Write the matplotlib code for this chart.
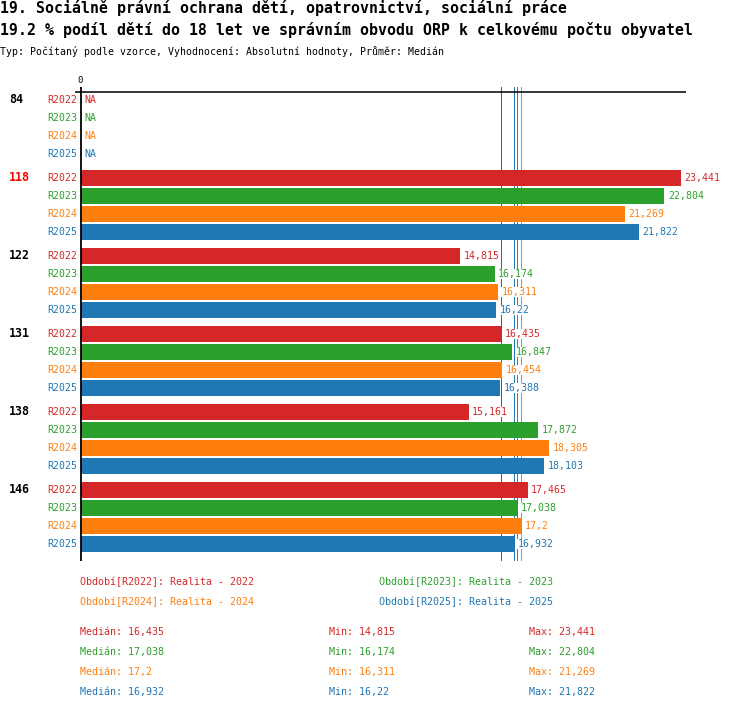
import numpy as np
import matplotlib
matplotlib.use("Agg")
import matplotlib.pyplot as plt

plt.rcParams['font.family'] = ['DejaVu Sans Mono', 'DejaVu Sans']

title1 = "19. Sociálně právní ochrana dětí, opatrovnictví, sociální práce"
title2 = "19.2 % podíl dětí do 18 let ve správním obvodu ORP k celkovému počtu obyvatel"
subtitle = "Typ: Počítaný podle vzorce, Vyhodnocení: Absolutní hodnoty, Průměr: Medián"

groups = ['84', '118', '122', '131', '138', '146']
highlight = '118'
series = ['R2022', 'R2023', 'R2024', 'R2025']
legend_years = ['2022', '2023', '2024', '2025']
R2022 = [np.nan, 23.441, 14.815, 16.435, 15.161, 17.465]
R2023 = [np.nan, 22.804, 16.174, 16.847, 17.872, 17.038]
R2024 = [np.nan, 21.269, 16.311, 16.454, 18.305, 17.2]
R2025 = [np.nan, 21.822, 16.22, 16.388, 18.103, 16.932]
values = [R2022, R2023, R2024, R2025]
colors = ['#d62728', '#2ca02c', '#ff7f0e', '#1f77b4']

W, H = 750, 710
DPI = 100
fig = plt.figure(figsize=(W / DPI, H / DPI), dpi=DPI)

# layout in pixels
x0_px = 80.5          # pixel of value 0
ppu = 25.6            # pixels per unit
ax_left_px, ax_right_px = 75.0, 685.7
row_px = 18.0
group_px = 78.0
row0_px = 100.0
ax_top_px, ax_bot_px = 87.0, 560.5

def fx(px):
    return px / W

def fy(py):
    return 1 - py / H

ax = fig.add_axes([fx(ax_left_px), fy(ax_bot_px),
                   (ax_right_px - ax_left_px) / W, (ax_bot_px - ax_top_px) / H])
ax.set_xlim((ax_left_px - x0_px) / ppu, (ax_right_px - x0_px) / ppu)
ax.set_ylim((ax_bot_px - row0_px) / row_px, (ax_top_px - row0_px) / row_px)
ax.set_axis_off()

def fmt(v):
    return ('{:g}'.format(round(v, 3))).replace('.', ',')

gstep = group_px / row_px
bar_h = 16.0 / row_px

for g, gname in enumerate(groups):
    for k, s in enumerate(series):
        y = g * gstep + k
        v = values[k][g]
        c = colors[k]
        ax.annotate(s, xy=(0, y), xytext=(-2.4, 0), textcoords='offset points',
                    ha='right', va='center', fontsize=7.1, color=c, annotation_clip=False)
        if np.isnan(v):
            ax.annotate('NA', xy=(0, y), xytext=(2.6, 0), textcoords='offset points',
                        ha='left', va='center', fontsize=7.1, color=c, zorder=5,
                        annotation_clip=False)
        else:
            ax.barh(y, v, height=bar_h, color=c, zorder=3, linewidth=0)
            ax.annotate(fmt(v), xy=(v, y), xytext=(2.6, 0), textcoords='offset points',
                        ha='left', va='center', fontsize=7.1, color=c, zorder=5,
                        bbox=dict(boxstyle='square,pad=0.05', fc='white', ec='none'),
                        annotation_clip=False)
    gy = g * gstep
    ax.annotate(gname, xy=(0, gy), xycoords=('axes fraction', 'data'),
                xytext=(9 - ax_left_px, 0), textcoords='offset pixels',
                ha='left', va='center', fontsize=8.4, fontweight='bold',
                color='#ff0000' if gname == highlight else 'black', annotation_clip=False)

# median lines
medians = [np.nanmedian(v) for v in values]
mins = [np.nanmin(v) for v in values]
maxs = [np.nanmax(v) for v in values]
for m, c in zip(medians, colors):
    ax.axvline(m, color=c, lw=0.72, zorder=1, antialiased=False)

# axes lines
ax.axhline((92 - row0_px) / row_px, color='black', lw=1.1, zorder=4)
ax.axvline(0, color='black', lw=1.3, zorder=6)
ax.annotate('0', xy=(0, 1), xycoords=('data', 'axes fraction'), xytext=(0, 1.2),
            textcoords='offset points', ha='center', va='bottom', fontsize=6.5,
            annotation_clip=False)

# titles
fig.text(0, fy(13.5), title1, fontsize=10.75, fontweight='bold', va='baseline', ha='left')
fig.text(0, fy(35.5), title2, fontsize=10.75, fontweight='bold', va='baseline', ha='left')
fig.text(0, fy(55), subtitle, fontsize=7.15, va='baseline', ha='left')

# legend
leg_pos = [(80, 582), (379, 582), (80, 602), (379, 602)]
for (px, py), s, yr, c in zip(leg_pos, series, legend_years, colors):
    fig.text(fx(px), fy(py), 'Období[%s]: Realita - %s' % (s, yr), fontsize=7.2,
             color=c, ha='left', va='center')

# stats
for i, c in enumerate(colors):
    py = 632 + i * 20
    fig.text(fx(80), fy(py), 'Medián: ' + fmt(medians[i]), fontsize=7.2, color=c, va='center')
    fig.text(fx(329), fy(py), 'Min: ' + fmt(mins[i]), fontsize=7.2, color=c, va='center')
    fig.text(fx(529), fy(py), 'Max: ' + fmt(maxs[i]), fontsize=7.2, color=c, va='center')

fig.savefig('out.png', dpi=DPI)
